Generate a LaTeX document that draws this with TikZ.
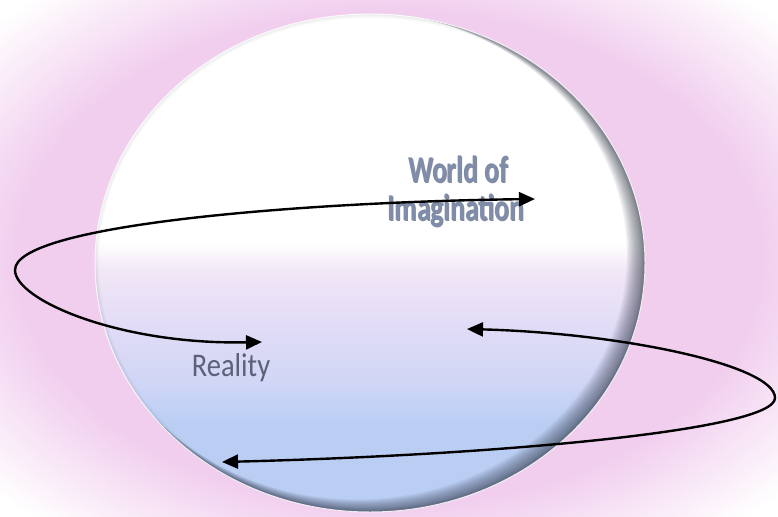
\documentclass[tikz,border=0pt]{standalone}
\usepackage{fontspec}
\setmainfont{Carlito}
\usetikzlibrary{arrows.meta}
\definecolor{bgpink}{RGB}{241,206,238}
\definecolor{eblue}{RGB}{186,206,244}
\definecolor{eblue2}{RGB}{208,214,245}
\definecolor{elav}{RGB}{226,220,246}
\definecolor{epink}{RGB}{240,230,246}
\definecolor{shadowc}{RGB}{50,56,72}
\definecolor{titlec}{RGB}{128,141,170}
\definecolor{titledark}{RGB}{80,90,115}
\definecolor{realc}{RGB}{92,97,120}
\pgfdeclareradialshading{bgshade}{\pgfpoint{0bp}{0bp}}{color(0bp)=(bgpink); color(24bp)=(bgpink); color(34bp)=(white); color(50bp)=(white)}
\pgfdeclareverticalshading{ellshade}{100bp}{color(0bp)=(eblue); color(34bp)=(eblue); color(38bp)=(eblue2); color(44bp)=(elav); color(49bp)=(epink); color(52bp)=(white); color(100bp)=(white)}
\tikzset{
  looparrow/.style={draw=black, line width=2.4pt, {Triangle[length=16pt,width=14pt]}-{Triangle[length=16pt,width=14pt]}},
  titletext/.style={font=\fontsize{27.5}{27.5}\selectfont\bfseries, inner sep=0pt, anchor=base, yscale=1.38},
  realtext/.style={font=\fontsize{28.5}{28.5}\selectfont, inner sep=0pt, anchor=base, yscale=1.16}
}
\begin{document}
\begin{tikzpicture}[x=1pt,y=-1pt]
\useasboundingbox (0,0) rectangle (778,516);
% background
\path[shading=bgshade] (0,0) rectangle (778,516);
% globe
\path[shading=ellshade] (370,263) ellipse [x radius=275pt, y radius=249pt];
\begin{scope}
  \clip (370,263) ellipse [x radius=275pt, y radius=249pt];
  \foreach \k in {1,...,14} {
    \fill[shadowc, opacity=0.06, even odd rule] (-5,-5) rectangle (783,521)
      ({370-0.95*\k},{263-0.55*\k}) ellipse [x radius={275pt-0.35pt*\k}, y radius={249pt-0.35pt*\k}];
  }
  \foreach \k in {1,...,5} {
    \fill[shadowc, opacity=0.02, even odd rule] (-5,-5) rectangle (783,521)
      (370,263) ellipse [x radius={275pt-0.8pt*\k}, y radius={249pt-0.8pt*\k}];
  }
\end{scope}
\draw[white, line width=1pt, opacity=0.85] (370,263) ellipse [x radius=275pt, y radius=249pt];
% texts
\node[titletext, text=titledark, opacity=0.7] (worldsh) at (459,183) {World of};
\node[titletext, text=titledark, opacity=0.7] (imagsh) at (457,221) {Imagination};
\node[titletext, text=titlec] (world) at (458,182) {World of};
\node[titletext, text=titlec] (imag) at (456,220) {Imagination};
\node[realtext, text=realc] (reality) at (231,376) {Reality};
% arrows
\coordinate (a1) at (262,342);
\coordinate (l1) at (15,270);
\coordinate (b1) at (535,199);
\draw[looparrow] (a1) .. controls (120,345) and (15,300) .. (l1) .. controls (15,225) and (300,202) .. (b1);
\coordinate (a2) at (467,329);
\coordinate (r2) at (775,398);
\coordinate (b2) at (222,462);
\draw[looparrow] (a2) .. controls (620,333) and (775,365) .. (r2) .. controls (775,430) and (500,455) .. (b2);
\end{tikzpicture}
\end{document}
